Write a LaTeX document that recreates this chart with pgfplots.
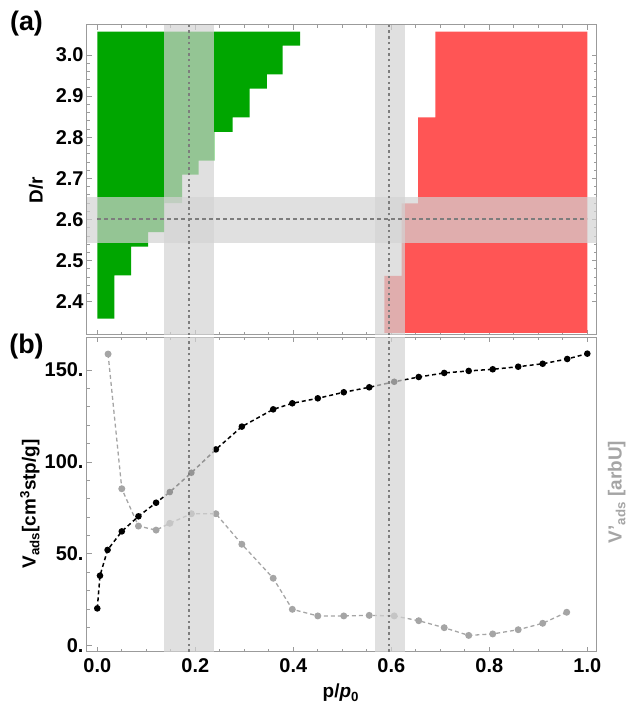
\documentclass[border=0pt]{standalone}
\usepackage{fontspec}
\setmainfont{Liberation Sans}
\usepackage{pgfplots}
\pgfplotsset{compat=1.18}

\definecolor{dgreen}{RGB}{0,166,0}
\definecolor{lred}{RGB}{255,85,85}
\definecolor{band}{RGB}{211,211,211}
\definecolor{framec}{RGB}{155,155,155}
\definecolor{guide}{RGB}{125,125,125}
\definecolor{dgray}{RGB}{165,165,165}

\pgfplotsset{
  panel/.style={
    scale only axis, width=509.7bp,
    xmin=-0.021, xmax=1.0192,
    axis line style={framec, line width=1bp},
    tick style={framec, line width=0.8bp},
    major tick length=5bp, minor tick length=3bp,
    tick align=inside,
    xtick={0,0.2,0.4,0.6,0.8,1}, minor x tick num=3,
    ticklabel style={font=\fontsize{20}{20}\selectfont\bfseries},
    label style={font=\fontsize{19}{23}\selectfont\bfseries},
    clip marker paths=true,
  },
  vband/.style={fill=band, fill opacity=0.7, draw=none},
  guideline/.style={draw=guide, line width=2bp, dash pattern=on 2.4bp off 3.3bp},
}

\begin{document}
\begin{tikzpicture}
\useasboundingbox (-87bp,-58.3bp) rectangle (540bp,651.7bp);

% panel (a)
\begin{axis}[panel, name=a, at={(0,316.7bp)}, anchor=south west, height=310bp,
  ymin=2.319, ymax=3.073,
  ytick={2.4,2.5,2.6,2.7,2.8,2.9,3.0},
  yticklabels={2.4,2.5,2.6,2.7,2.8,2.9,3.0},
  minor y tick num=4, xticklabels={},
  ylabel={D/r},
  ylabel style={at={(axis description cs:-0.100,0.468)}, anchor=center}]
\addplot[fill=dgreen, draw=none] coordinates {
  (0,2.359) (0.035,2.359) (0.035,2.464) (0.069,2.464) (0.069,2.534)
  (0.104,2.534) (0.104,2.569) (0.137,2.569) (0.137,2.640) (0.173,2.640)
  (0.173,2.709) (0.207,2.709) (0.207,2.743) (0.239,2.743) (0.239,2.813)
  (0.276,2.813) (0.276,2.848) (0.311,2.848) (0.311,2.918) (0.346,2.918)
  (0.346,2.953) (0.378,2.953) (0.378,3.023) (0.414,3.023) (0.414,3.057)
  (0,3.057)} -- cycle;
\addplot[fill=lred, draw=none] coordinates {
  (1,2.324) (0.586,2.324) (0.586,2.463) (0.621,2.463) (0.621,2.639)
  (0.655,2.639) (0.655,2.848) (0.690,2.848) (0.690,3.057) (1,3.057)} -- cycle;
% shaded bands
\addplot[vband] coordinates {(0.137,2.319) (0.238,2.319) (0.238,3.073) (0.137,3.073)} -- cycle;
\addplot[vband] coordinates {(0.567,2.319) (0.627,2.319) (0.627,3.073) (0.567,3.073)} -- cycle;
\addplot[vband] coordinates {(-0.021,2.543) (1.0192,2.543) (1.0192,2.655) (-0.021,2.655)} -- cycle;
\addplot[guideline] coordinates {(0.1865,2.319) (0.1865,3.073)};
\addplot[guideline] coordinates {(0.596,2.319) (0.596,3.073)};
\addplot[draw=guide, line width=2bp, dash pattern=on 3.8bp off 3.2bp] coordinates {(0,2.6) (1,2.6)};
\end{axis}

% panel (b)
\begin{axis}[panel, name=b, at={(0,0)}, anchor=south west, height=314.4bp,
  ymin=-3.26, ymax=167.8,
  ytick={0,50,100,150}, yticklabels={0.,50.,100.,150.},
  minor y tick num=4, ytick pos=left,
  xticklabels={0.0,0.2,0.4,0.6,0.8,1.0},
  xticklabel style={yshift=-3bp},
  xlabel={p/\textit{p}\textsubscript{0}},
  xlabel style={at={(axis description cs:0.498,-0.131)}, anchor=center},
  ylabel={V\textsubscript{ads}[cm\textsuperscript{3}stp/g]},
  ylabel style={at={(axis description cs:-0.112,0.47)}, anchor=center}]
% derivative V'ads
\addplot[dgray, line width=1.3bp, dash pattern=on 4bp off 3bp,
  mark=*, mark size=2.8bp, mark options={solid}] coordinates {
  (0.022,158.7) (0.050,85.4) (0.084,65.1) (0.120,62.9) (0.148,66.6)
  (0.192,71.8) (0.242,71.8) (0.295,55.2) (0.359,36.7) (0.398,19.8)
  (0.450,16.2) (0.503,16.2) (0.555,16.5) (0.606,16.2) (0.656,13.6)
  (0.708,9.8) (0.758,5.6) (0.807,6.4) (0.859,8.7) (0.909,12.2) (0.958,18.2)};
% Vads
\addplot[black, line width=1.5bp, dash pattern=on 4bp off 3bp,
  mark=*, mark size=2.5bp, mark options={solid}] coordinates {
  (0,20.3) (0.0055,38.1) (0.021,52.1) (0.050,62.2) (0.084,70.4)
  (0.120,77.8) (0.148,83.6) (0.192,94.1) (0.242,106.8) (0.295,119.2)
  (0.359,128.6) (0.398,131.9) (0.450,134.6) (0.503,137.9) (0.555,140.6)
  (0.606,143.6) (0.656,146.2) (0.708,148.4) (0.758,149.5) (0.807,150.4)
  (0.859,151.8) (0.909,153.4) (0.959,156.0) (1.0,158.9)};
\addplot[vband] coordinates {(0.137,-3.26) (0.238,-3.26) (0.238,167.8) (0.137,167.8)} -- cycle;
\addplot[vband] coordinates {(0.567,-3.26) (0.627,-3.26) (0.627,167.8) (0.567,167.8)} -- cycle;
\addplot[guideline] coordinates {(0.1865,-3.26) (0.1865,167.8)};
\addplot[guideline] coordinates {(0.596,-3.26) (0.596,167.8)};
\end{axis}

\node[font=\fontsize{27}{27}\selectfont\bfseries] at (-60.5bp,628.2bp) {(a)};
\node[font=\fontsize{27}{27}\selectfont\bfseries] at (-60.5bp,304.7bp) {(b)};
\node[rotate=90, text=dgray, font=\fontsize{19}{23}\selectfont\bfseries]
  at (529.7bp,159.7bp) {V'\textsubscript{ads} [arbU]};
\end{tikzpicture}
\end{document}
